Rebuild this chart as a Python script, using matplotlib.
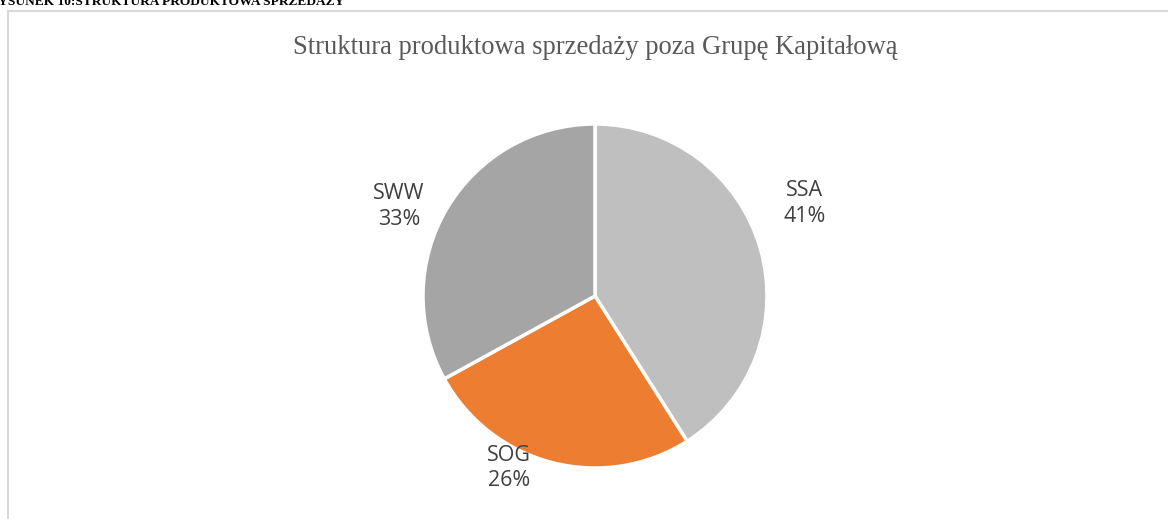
import matplotlib.pyplot as plt

categories = ["SSA", "SOG", "SWW"]
shares = [41, 26, 33]
colors = ["#BFBFBF", "#ED7D31", "#A5A5A5"]

# label centres in pie data units (Excel best-fit placement)
label_pos = [(1.22, 0.54), (-0.5, -1.0), (-1.14, 0.52)]

fig = plt.figure(figsize=(11.68, 5.19), dpi=100)

# frame of the chart object
fig.add_artist(plt.Line2D([8 / 1168, 1], [1 - 10.5 / 519, 1 - 10.5 / 519],
                          color="#D9D9D9", lw=1.5, transform=fig.transFigure))
fig.add_artist(plt.Line2D([7.5 / 1168, 7.5 / 1168], [0, 1 - 10.5 / 519],
                          color="#D9D9D9", lw=1.5, transform=fig.transFigure))

# caption of the figure, cut by the page edge
fig.text(-11 / 1168, 1 - 5 / 519, "RYSUNEK 10:STRUKTURA PRODUKTOWA SPRZEDAŻY",
         family="Liberation Serif", weight="bold", fontsize=9.6,
         ha="left", va="baseline", color="black")

fig.text(595 / 1168, 1 - 48 / 519,
         "Struktura produktowa sprzedaży poza Grupę Kapitałową",
         family="Liberation Serif", fontsize=19.2, color="#595959",
         ha="center", va="center")

ax = fig.add_axes([423 / 1168, 51 / 519, 344 / 1168, 344 / 519])
wedges, texts = ax.pie(shares, colors=colors, startangle=90, counterclock=False,
                       labels=[f"{c}\n{s}%" for c, s in zip(categories, shares)],
                       wedgeprops=dict(edgecolor="white", linewidth=2.5),
                       textprops=dict(family="Open Sans", fontsize=15.5,
                                      color="#404040", linespacing=1.3))
for t, (x, y) in zip(texts, label_pos):
    t.set_position((x, y))
    t.set_ha("center")
    t.set_va("center")
ax.set_xlim(-1, 1)
ax.set_ylim(-1, 1)
ax.set_aspect("equal")

fig.savefig("out.png", dpi=100)
